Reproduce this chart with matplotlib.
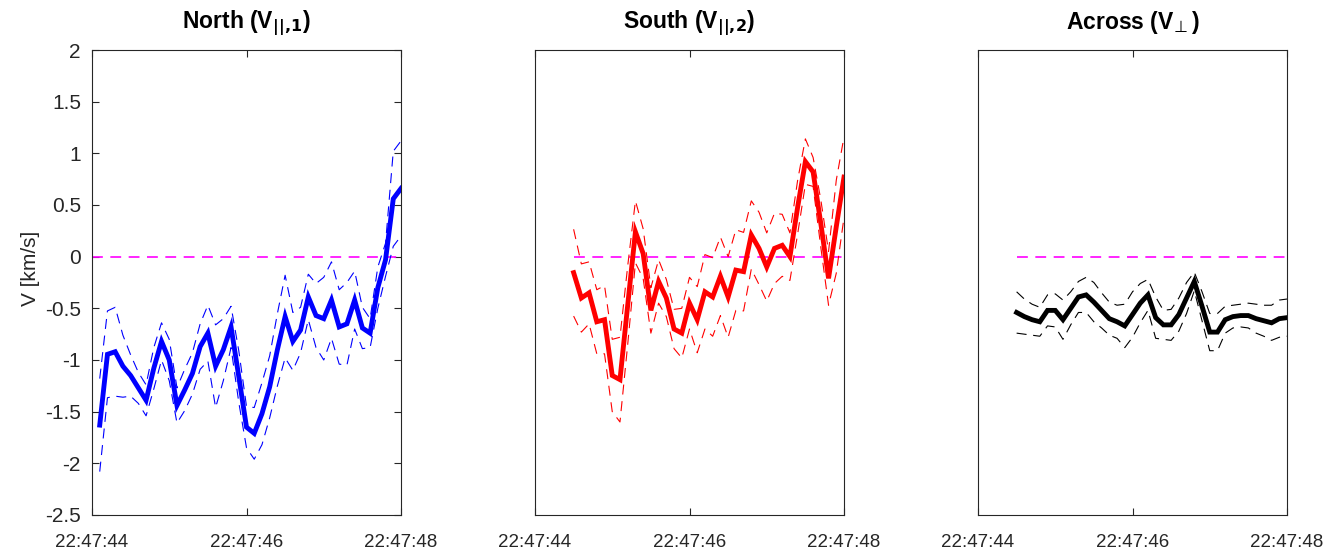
import numpy as np
import matplotlib
matplotlib.use("Agg")
import matplotlib.pyplot as plt
import matplotlib.dates as mdates

plt.rcParams['font.family'] = ['Liberation Sans', 'DejaVu Sans']
plt.rcParams['mathtext.fontset'] = 'custom'
plt.rcParams['mathtext.rm'] = 'DejaVu Sans'
plt.rcParams['mathtext.bf'] = 'DejaVu Sans:bold'
plt.rcParams['axes.unicode_minus'] = False

# ---- data (0.1 s samples) ----
t0_north = np.datetime64('2000-01-01T22:47:44.100')
t0_south = np.datetime64('2000-01-01T22:47:44.500')
t0_across = np.datetime64('2000-01-01T22:47:44.500')
dt = np.timedelta64(100, 'ms')

v_north = [-1.63, -0.945, -0.92, -1.06, -1.15, -1.27, -1.39, -1.08, -0.82, -1.0,
           -1.44, -1.29, -1.13, -0.87, -0.74, -1.06, -0.9, -0.68, -1.16, -1.65,
           -1.71, -1.52, -1.26, -0.9, -0.58, -0.82, -0.71, -0.39, -0.57, -0.6,
           -0.42, -0.68, -0.65, -0.42, -0.69, -0.74, -0.3, -0.03, 0.56, 0.66]
err_north = [0.45, 0.42, 0.43, 0.3, 0.2, 0.15, 0.15, 0.2, 0.18, 0.2,
             0.17, 0.2, 0.2, 0.22, 0.27, 0.4, 0.3, 0.2, 0.25, 0.2,
             0.25, 0.3, 0.3, 0.35, 0.4, 0.28, 0.22, 0.22, 0.31, 0.4,
             0.37, 0.36, 0.4, 0.28, 0.2, 0.14, 0.2, 0.16, 0.46, 0.46]

v_south = [-0.155, -0.40, -0.35, -0.63, -0.61, -1.15, -1.19, -0.47, 0.24, 0.03,
           -0.52, -0.24, -0.40, -0.70, -0.74, -0.45, -0.61, -0.34, -0.39, -0.19,
           -0.39, -0.13, -0.145, 0.21, 0.08, -0.10, 0.08, 0.11, 0.0, 0.48,
           0.92, 0.82, 0.32, -0.21, 0.29, 0.77]
err_south = [0.42, 0.33, 0.3, 0.31, 0.33, 0.35, 0.41, 0.38, 0.3, 0.24,
             0.22, 0.21, 0.18, 0.19, 0.24, 0.25, 0.32, 0.36, 0.38, 0.38,
             0.39, 0.39, 0.38, 0.33, 0.35, 0.33, 0.34, 0.3, 0.23, 0.26,
             0.22, 0.14, 0.23, 0.26, 0.45, 0.39]

v_across = [-0.54, -0.58, -0.61, -0.63, -0.52, -0.52, -0.61, -0.5, -0.39, -0.37,
            -0.44, -0.52, -0.6, -0.63, -0.67, -0.56, -0.45, -0.37, -0.59, -0.66,
            -0.66, -0.56, -0.40, -0.24, -0.48, -0.73, -0.73, -0.61, -0.58, -0.57,
            -0.57, -0.60, -0.62, -0.64, -0.6, -0.59]
err_across = [0.2, 0.17, 0.15, 0.14, 0.15, 0.16, 0.19, 0.16, 0.15, 0.17,
              0.19, 0.17, 0.16, 0.16, 0.21, 0.22, 0.19, 0.15, 0.2, 0.14,
              0.15, 0.16, 0.15, 0.09, 0.14, 0.18, 0.18, 0.13, 0.11, 0.11,
              0.12, 0.14, 0.15, 0.17, 0.18, 0.18]

titles = [r'North (V$_{\mathbf{||{,}1}}$)', r'South (V$_{\mathbf{||{,}2}}$)',
          r'Across (V$_{\!\bot}$)']
colors = ['#0000ff', '#ff0000', '#000000']
yticks = [-2.5, -2, -1.5, -1, -0.5, 0, 0.5, 1, 1.5, 2]
xticks = ['2000-01-01T22:47:44', '2000-01-01T22:47:46', '2000-01-01T22:47:48']

series = [(t0_north, v_north, err_north), (t0_south, v_south, err_south),
          (t0_across, v_across, err_across)]


def todt(x):
    return np.datetime64(x).astype('datetime64[ms]').astype(object)


fig = plt.figure(figsize=(13.42, 5.51), dpi=100)
lefts = [92, 535, 978]
axc = '#262626'

for k, (t0, v, e) in enumerate(series):
    ax = fig.add_axes([lefts[k] / 1342, 1 - 515 / 551, 309 / 1342, 465 / 551])
    v = np.array(v)
    e = np.array(e)
    t = (t0 + dt * np.arange(len(v))).astype('datetime64[ms]').astype(object)
    # zero reference
    zt = [todt(xticks[0]) if k == 0 else t[0], t[-1]]
    ax.plot(zt, [0, 0], color='#ff00ff', lw=1.2, ls=(0, (6.5, 4.5)))
    ax.plot(t, v + e, color=colors[k], lw=0.8, ls=(0, (9, 6)))
    ax.plot(t, v - e, color=colors[k], lw=0.8, ls=(0, (9, 6)))
    ax.plot(t, v, color=colors[k], lw=3.5, solid_joinstyle='miter')

    ax.set_xlim(todt(xticks[0]), todt(xticks[-1]))
    ax.set_ylim(-2.5, 2)
    ax.set_xticks([todt(x) for x in xticks])
    ax.xaxis.set_major_formatter(mdates.DateFormatter('%H:%M:%S'))
    if k == 0:
        ax.set_yticks(yticks)
        ax.set_yticklabels(['%g' % y for y in yticks])
        ax.set_ylabel('V [km/s]', fontsize=15, color=axc)
        ax.yaxis.set_label_coords(-0.168, 0.53)
    else:
        ax.set_yticks([])
    ax.tick_params(direction='in', top=True, right=True, length=5, width=0.8,
                   colors=axc)
    ax.tick_params(axis='y', labelsize=15, pad=8)
    ax.tick_params(axis='x', labelsize=13.5, pad=14)
    for s in ax.spines.values():
        s.set_color(axc)
        s.set_linewidth(0.8)
    ax.set_title(titles[k], fontsize=16.5, fontweight='bold', pad=15)

fig.savefig('out.png', dpi=100)
